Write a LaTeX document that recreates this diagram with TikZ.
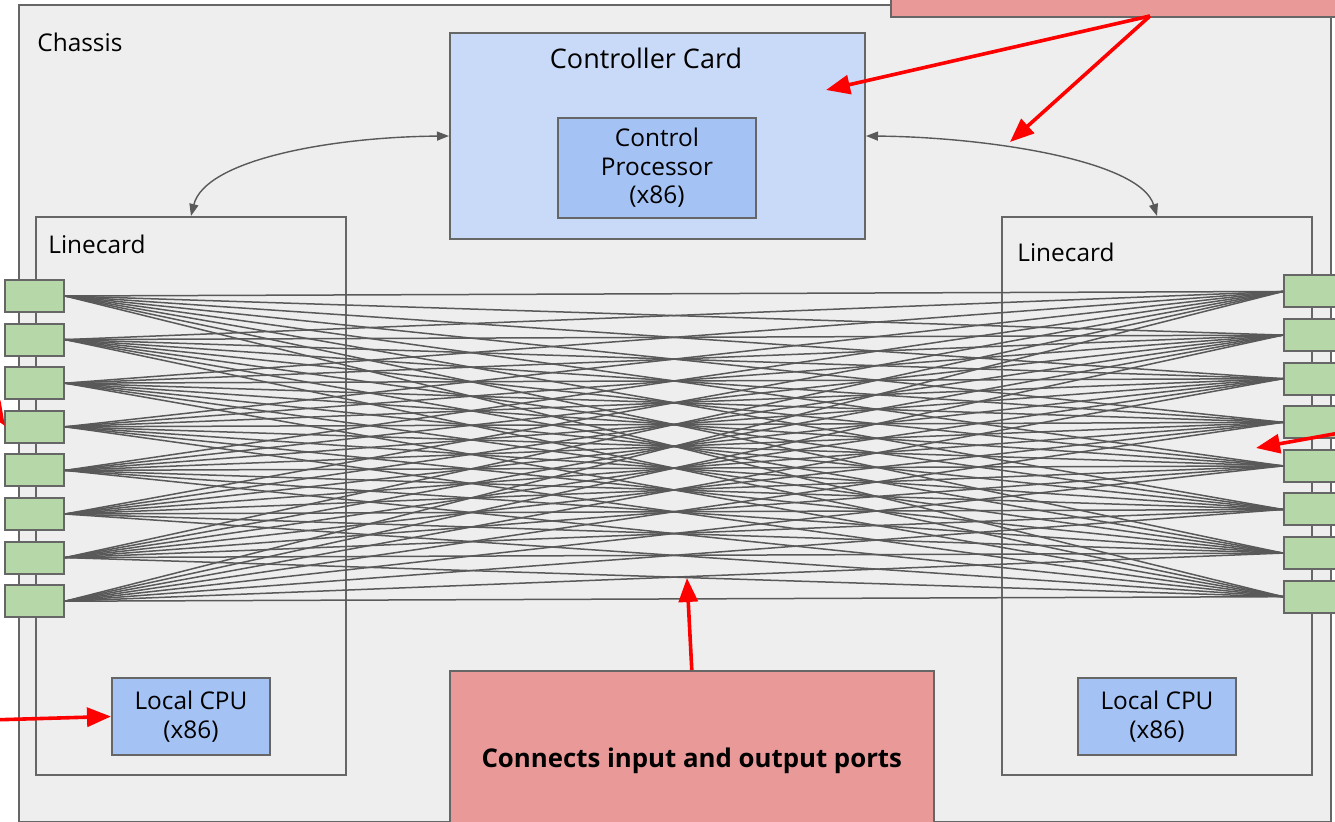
\documentclass[tikz,border=0pt]{standalone}
\usepackage{fontspec}
\setmainfont{Open Sans}
\usepackage{xcolor}
\usepackage{tikz}
\usetikzlibrary{arrows.meta,positioning,calc}
\definecolor{chassisgray}{HTML}{EEEEEE}
\definecolor{edgegray}{HTML}{666666}
\definecolor{wiregray}{HTML}{595959}
\definecolor{ctrlblue}{HTML}{C9DAF8}
\definecolor{cpublue}{HTML}{A4C2F4}
\definecolor{portgreen}{HTML}{B6D7A8}
\definecolor{notered}{HTML}{EA9999}
\newcommand{\lblfont}{\fontsize{12.2}{14.2}\selectfont}
\tikzset{
  cardbox/.style={rectangle,draw=edgegray,line width=1pt,inner sep=0pt,
                  anchor=north west},
  cpubox/.style={cardbox,fill=cpublue,align=center,font=\lblfont},
  portbox/.style={rectangle,draw=edgegray,line width=1pt,fill=portgreen,
                  minimum width=29.5pt,minimum height=16pt,inner sep=0pt},
  notebox/.style={cardbox,fill=notered,line width=0.8pt,
                  font=\fontsize{12.9}{15}\selectfont\bfseries},
  lbl/.style={font=\lblfont,inner sep=0pt,anchor=base west},
  wire/.style={draw=wiregray,line width=0.75pt},
  link/.style={{Triangle[length=6pt,width=4.5pt]}-{Triangle[length=6pt,width=4.5pt]},
               draw=wiregray,line width=0.7pt},
  arr/.style={-{Triangle[length=12pt,width=9.5pt]},line width=1.8pt,color=red},
}
\begin{document}
\begin{tikzpicture}[x=0.5pt,y=-0.5pt]
    \useasboundingbox (0,0) rectangle (1335,822);
    \clip (0,0) rectangle (1335,822);

    % chassis and cards
    \node[cardbox,fill=chassisgray,minimum width=656pt,minimum height=408.5pt] (chassis) at (18,4) {};
    \node[lbl] (chassislbl) at (37,52) {Chassis};

    \node[cardbox,fill=ctrlblue,minimum width=207.5pt,minimum height=103pt] (ctrl) at (449,32) {};
    \node[lbl,anchor=base] (ctrllbl) at (646,69) {\fontsize{13.5}{16}\selectfont Controller Card};
    \node[cpubox,minimum width=99pt,minimum height=50pt] (cproc) at (557,117) {Control\\Processor\\(x86)};

    \node[cardbox,minimum width=155pt,minimum height=279pt] (lcL) at (35,216) {};
    \node[cardbox,minimum width=155pt,minimum height=279pt] (lcR) at (1001,216) {};
    \node[lbl] (lcLlbl) at (48,254) {Linecard};
    \node[lbl] (lcRlbl) at (1017,262) {Linecard};

    \node[cpubox,minimum width=79pt,minimum height=38.5pt] (cpuL) at (111,677) {Local CPU\\(x86)};
    \node[cpubox,minimum width=79pt,minimum height=38.5pt] (cpuR) at (1077,677) {Local CPU\\(x86)};

    % ports
    \foreach \i in {0,...,7} {
        \node[portbox] (pl\i) at (34.5,{296+43.6*\i}) {};
        \node[portbox] (pr\i) at (1313.5,{291.5+43.6*\i}) {};
    }

    % full mesh between the two linecards
    \foreach \i in {0,...,7}
        \foreach \j in {0,...,7}
            \draw[wire] (pl\i.east) -- (pr\j.west);

    % control links
    \draw[link] (ctrl.west) .. controls (330,137) and (205,160) .. (lcL.north);
    \draw[link] (ctrl.east) .. controls (985,137) and (1140,160) .. (lcR.north);

    % notes
    \node[notebox,minimum width=227.5pt,minimum height=23pt] (note1) at (890,-30) {};
    \node[notebox,minimum width=242pt,minimum height=90pt] (note2) at (449,670) {Connects input and output ports};

    \coordinate (n1) at (1150,16);
    \coordinate (ctrlpt) at (826,90);
    \coordinate (linkpt) at (1010,142);
    \coordinate (meshpt) at (687,578);
    \coordinate (leftsrc) at (-10,720);
    \coordinate (rightsrc) at (1345,432);
    \coordinate (lcRpt) at (1256,448);
    \coordinate (portsrc) at (-50,340);
    \coordinate (portpt) at (5,426);

    \draw[arr] (n1) -- (ctrlpt);
    \draw[arr] (n1) -- (linkpt);
    \draw[arr] (note2.north) -- (meshpt);
    \draw[arr] (leftsrc) -- (cpuL.west);
    \draw[arr] (rightsrc) -- (lcRpt);
    \draw[arr] (portsrc) -- (portpt);
\end{tikzpicture}
\end{document}
